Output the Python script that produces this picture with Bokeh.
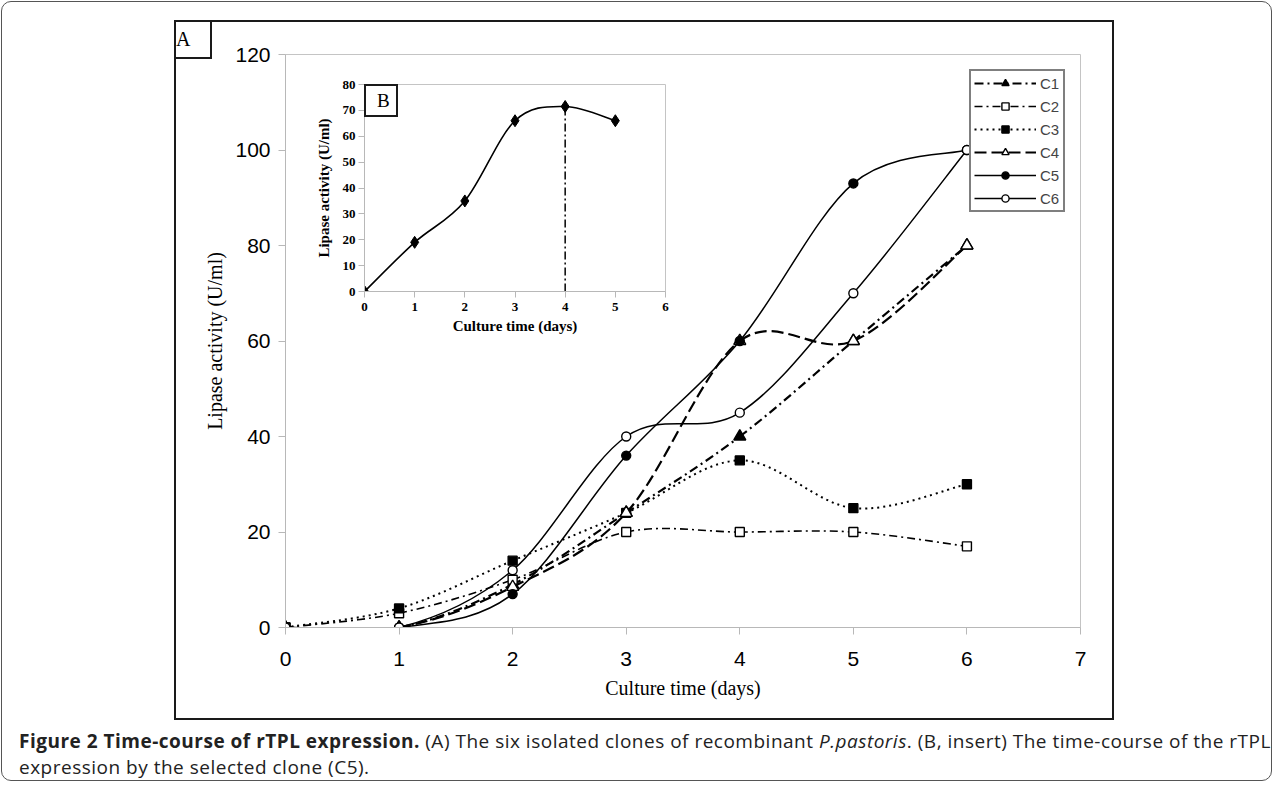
from bokeh.plotting import figure
from bokeh.models import (Legend, LegendItem, FixedTicker, Range1d, Div, GridBox,
                          ColumnDataSource)
from bokeh.embed import file_html
from bokeh.resources import INLINE

# ---------------- data ----------------
days = [0, 1, 2, 3, 4, 5, 6]
series_names = ["C1", "C2", "C3", "C4", "C5", "C6"]
c1 = [0, 0, 9, 24, 40, 60, 80]
c2 = [0, 3, 10, 20, 20, 20, 17]
c3 = [0, 4, 14, 24, 35, 25, 30]
c4 = [0, 0, 8.5, 24, 60, 60, 80]
c5 = [0, 0, 7, 36, 60, 93, 100]
c6 = [0, 0, 12, 40, 45, 70, 100]

x_ticks = [0, 1, 2, 3, 4, 5, 6, 7]
y_ticks = [0, 20, 40, 60, 80, 100, 120]

inset_days = [0, 1, 2, 3, 4, 5]
inset_activity = [0, 19, 35, 66, 71.5, 66]
peak_day = [4]
peak_activity = [71.5]
inset_x_ticks = [0, 1, 2, 3, 4, 5, 6]
inset_y_ticks = [0, 10, 20, 30, 40, 50, 60, 70, 80]

caption_bold = "Figure 2 Time-course of rTPL expression."
caption_line1 = " (A) The six isolated clones of recombinant "
caption_species = "P.pastoris"
caption_line1b = ". (B, insert) The time-course of the rTPL"
caption_line2 = "expression by the selected clone (C5)."


def smooth(xs, ys):
    """Bezier segments (Catmull-Rom, like a spreadsheet's smoothed line)."""
    n = len(xs)
    P = list(zip(xs, ys))
    d = dict(x0=[], y0=[], x1=[], y1=[], cx0=[], cy0=[], cx1=[], cy1=[])
    for i in range(n - 1):
        p0 = P[i - 1] if i > 0 else P[i]
        p1, p2 = P[i], P[i + 1]
        p3 = P[i + 2] if i + 2 < n else P[i + 1]
        d["x0"].append(p1[0]); d["y0"].append(p1[1])
        d["x1"].append(p2[0]); d["y1"].append(p2[1])
        d["cx0"].append(p1[0] + (p2[0] - p0[0]) / 6.0)
        d["cy0"].append(p1[1] + (p2[1] - p0[1]) / 6.0)
        d["cx1"].append(p2[0] - (p3[0] - p1[0]) / 6.0)
        d["cy1"].append(p2[1] - (p3[1] - p1[1]) / 6.0)
    return ColumnDataSource(d)


SERIF = "Liberation Serif"
SANS = "Liberation Sans"
# both figures share one grid cell, so Bokeh aligns their borders: keep them equal
BORDERS = dict(min_border_left=111, min_border_right=34, min_border_top=34,
               min_border_bottom=93)

# ---------------- main chart ----------------
p = figure(width=940, height=700, x_range=Range1d(0, 7), y_range=Range1d(0, 120),
           output_backend="svg", toolbar_location=None, title=None,
           margin=(18, 0, 0, 172), **BORDERS)
p.background_fill_color = "white"
p.border_fill_color = "white"
p.outline_line_color = "#c4c4c4"
p.outline_line_width = 1
p.xgrid.visible = False
p.ygrid.visible = False

for ax, ticks in ((p.xaxis, x_ticks), (p.yaxis, y_ticks)):
    ax.ticker = FixedTicker(ticks=ticks)
    ax.minor_tick_line_color = None
    ax.major_tick_in = 0
    ax.major_tick_out = 7
    ax.major_tick_line_color = "#b8b8b8"
    ax.axis_line_color = "#b8b8b8"
    ax.major_label_text_font = SANS
    ax.major_label_text_font_size = "21px"
    ax.major_label_text_color = "black"
    ax.axis_label_text_font = SERIF
    ax.axis_label_text_font_size = "20px"
    ax.axis_label_text_font_style = "normal"
    ax.axis_label_text_color = "black"

p.xaxis.axis_label = "Culture time (days)"
p.xaxis.major_label_standoff = 17
p.xaxis.axis_label_standoff = 8
p.yaxis.axis_label = "Lipase activity (U/ml)"
p.yaxis.major_label_standoff = 8
p.yaxis.axis_label_standoff = 6

values = [c1, c2, c3, c4, c5, c6]
line_styles = [
    dict(line_dash="9 4 2 4", line_width=2.2),
    dict(line_dash="8 4 2 4", line_width=1.6),
    dict(line_dash="2 4", line_width=2.0),
    dict(line_dash="12 5", line_width=2.2),
    dict(line_dash="solid", line_width=1.5),
    dict(line_dash="solid", line_width=1.5),
]
marker_styles = [
    dict(marker="triangle", size=12, fill_color="black"),
    dict(marker="square", size=9, fill_color="white"),
    dict(marker="square", size=9, fill_color="black"),
    dict(marker="triangle", size=12, fill_color="white"),
    dict(marker="circle", size=9, fill_color="black"),
    dict(marker="circle", size=9, fill_color="white"),
]

line_renderers = []
for ys, ls in zip(values, line_styles):
    r = p.bezier(x0="x0", y0="y0", x1="x1", y1="y1", cx0="cx0", cy0="cy0",
                 cx1="cx1", cy1="cy1", source=smooth(days, ys), line_color="black", **ls)
    line_renderers.append(r)

marker_renderers = []
for ys, ms in zip(values, marker_styles):
    r = p.scatter(days, ys, line_color="black", line_width=1.4, **ms)
    marker_renderers.append(r)

items = [LegendItem(label=name, renderers=[lr, mr])
         for name, lr, mr in zip(series_names, line_renderers, marker_renderers)]
legend = Legend(items=items, location="top_right", margin=15,
                border_line_color="black", border_line_width=2,
                background_fill_color="white", background_fill_alpha=1,
                padding=3, spacing=5, glyph_width=62, glyph_height=18,
                label_height=18, label_standoff=4,
                label_text_font=SANS, label_text_font_size="15px")
p.add_layout(legend)

# ---------------- inset B ----------------
q = figure(frame_width=301, frame_height=207, x_range=Range1d(0, 6), y_range=Range1d(0, 80),
           output_backend="svg", toolbar_location=None, title=None,
           margin=(48, 0, 0, 251), **BORDERS)
q.background_fill_color = "white"
q.border_fill_color = None
q.outline_line_color = "#c4c4c4"
q.xgrid.visible = False
q.ygrid.visible = False
for ax, ticks in ((q.xaxis, inset_x_ticks), (q.yaxis, inset_y_ticks)):
    ax.ticker = FixedTicker(ticks=ticks)
    ax.minor_tick_line_color = None
    ax.major_tick_in = 0
    ax.major_tick_out = 6
    ax.major_tick_line_color = "#b8b8b8"
    ax.axis_line_color = "#b8b8b8"
    ax.major_label_text_font = SERIF
    ax.major_label_text_font_size = "13px"
    ax.major_label_text_font_style = "bold"
    ax.major_label_text_color = "black"
    ax.axis_label_text_font = SERIF
    ax.axis_label_text_font_size = "15px"
    ax.axis_label_text_font_style = "bold"
    ax.axis_label_text_color = "black"
q.xaxis.axis_label = "Culture time (days)"
q.xaxis.major_label_standoff = 5
q.xaxis.axis_label_standoff = 4
q.yaxis.axis_label = "Lipase activity (U/ml)"
q.yaxis.major_label_standoff = 3
q.yaxis.axis_label_standoff = 8

q.bezier(x0="x0", y0="y0", x1="x1", y1="y1", cx0="cx0", cy0="cy0", cx1="cx1", cy1="cy1",
         source=smooth(inset_days, inset_activity), line_color="black", line_width=1.6)
q.segment(x0=peak_day, y0=[0], x1=peak_day, y1=peak_activity, line_color="black",
          line_width=1.5, line_dash="8 3 2 3")
q.scatter(inset_days, inset_activity, marker="diamond", size=12, fill_color="black",
          line_color="black")

# ---------------- decorations ----------------
frame_div = Div(text="", width=940, height=700, margin=(18, 0, 0, 172),
                styles={"border": "2px solid #1a1a1a", "box-sizing": "border-box"})
a_div = Div(text='<div style="text-align:center;line-height:35px;">A</div>',
            width=38, height=39, margin=(18, 0, 0, 172),
            styles={"border": "2px solid #1a1a1a", "box-sizing": "border-box",
                    "background": "white", "font-family": SERIF, "font-size": "20px",
                    "color": "black"})
b_div = Div(text='<div style="padding-left:11px;line-height:29px;">B</div>',
            width=34, height=33, margin=(82, 0, 0, 362),
            styles={"border": "2px solid #1a1a1a", "box-sizing": "border-box",
                    "background": "white", "font-family": SERIF, "font-size": "19px",
                    "color": "black"})
caption_html = (f"<b>{caption_bold}</b>{caption_line1}<i>{caption_species}</i>"
                f"{caption_line1b}<br>{caption_line2}")
caption = Div(text=caption_html, width=1252, height=52, margin=(8, 0, 0, 17),
              styles={"font-family": "Open Sans", "font-size": "19px",
                      "letter-spacing": "0.5px", "line-height": "26px",
                      "white-space": "nowrap", "color": "#222"})

grid = GridBox(children=[(p, 0, 0), (q, 0, 0), (frame_div, 0, 0), (a_div, 0, 0),
                         (b_div, 0, 0), (caption, 1, 0)],
               margin=(1, 0, 0, 1),
               styles={"border": "1px solid #555", "border-radius": "10px",
                       "background": "white"})

open("out.html", "w").write(file_html(grid, INLINE))
